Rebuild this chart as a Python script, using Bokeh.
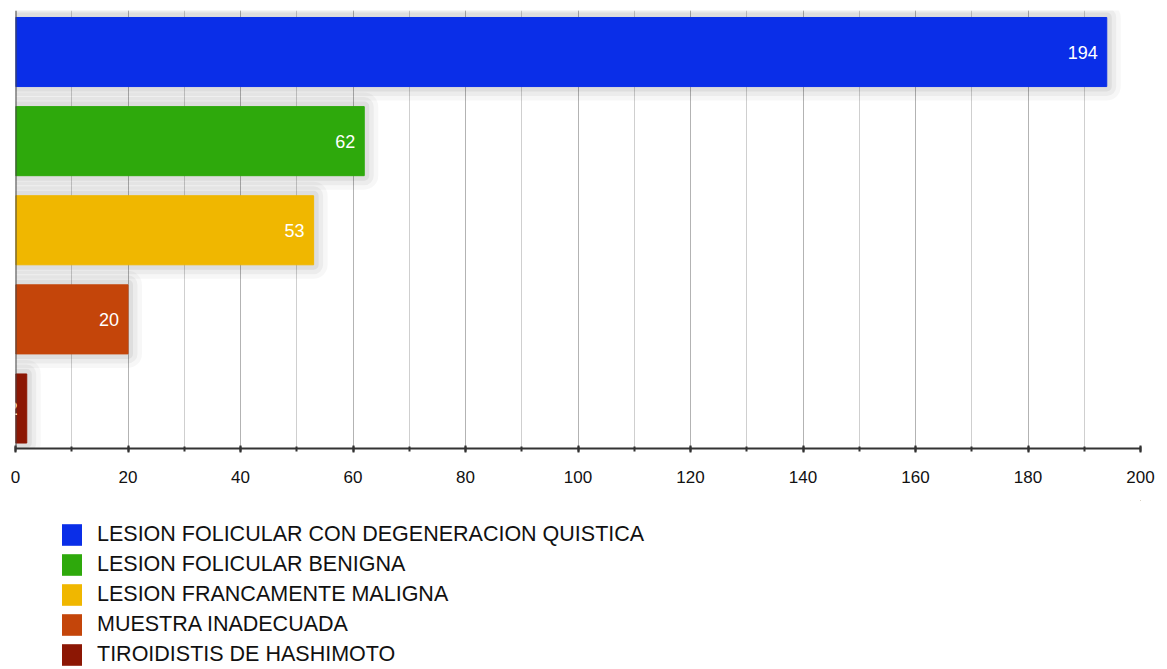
from bokeh.plotting import figure
from bokeh.layouts import column
from bokeh.models import (Range1d, SingleIntervalTicker, Legend, LegendItem,
                          ColumnDataSource, Span, LabelSet)
from bokeh.core.properties import value
from bokeh.embed import file_html
from bokeh.resources import INLINE

categories = [
    "LESION FOLICULAR CON DEGENERACION QUISTICA",
    "LESION FOLICULAR BENIGNA",
    "LESION FRANCAMENTE MALIGNA",
    "MUESTRA INADECUADA",
    "TIROIDISTIS DE HASHIMOTO",
]
values = [194, 62, 53, 20, 2]
colors = ["#0a2ee8", "#2ea90c", "#f0b700", "#c4450a", "#8c1704"]
x_max = 200
tick_step = 20

n = len(categories)
ypos = [n - 1 - i for i in range(n)]
src = ColumnDataSource(dict(y=ypos, v=values, c=colors, cat=categories,
                            lab=[str(v) for v in values]))

FONT = "Liberation Sans"

p = figure(width=1167, height=500, output_backend="svg", toolbar_location=None,
           x_range=Range1d(0, x_max), y_range=Range1d(-0.449, n - 1 + 0.466),
           min_border_left=15, min_border_right=27, min_border_top=10,
           min_border_bottom=52, y_axis_location=None)
p.outline_line_color = None
p.background_fill_color = "white"

# axis / grid
p.xaxis.ticker = SingleIntervalTicker(interval=tick_step, num_minor_ticks=2)
p.xaxis.axis_line_color = "#333333"
p.xaxis.axis_line_width = 2
p.xaxis.major_tick_line_color = "#333333"
p.xaxis.major_tick_line_width = 2
p.xaxis.major_tick_in = 3
p.xaxis.major_tick_out = 4
p.xaxis.minor_tick_line_color = "#333333"
p.xaxis.minor_tick_line_width = 2
p.xaxis.minor_tick_in = 2
p.xaxis.minor_tick_out = 3
p.xaxis.major_label_text_font = FONT
p.xaxis.major_label_text_font_size = "17px"
p.xaxis.major_label_text_color = "#111111"
p.xaxis.major_label_standoff = 18
p.xgrid.grid_line_color = "#b3b3b3"
p.xgrid.minor_grid_line_color = "#cfcfcf"
p.ygrid.grid_line_color = None

p.add_layout(Span(location=0, dimension="height", line_color="#444444", line_width=2))

# soft shadow
for lw, a in [(28, 0.03), (19, 0.045), (10, 0.06)]:
    p.hbar(y="y", right="v", left=0, height=0.775, source=src, fill_color=None,
           line_color="black", line_alpha=a, line_width=lw, line_join="round")

for i in range(n):
    p.hbar(y=[ypos[i]], right=[values[i]], left=0, height=0.775,
           fill_color=colors[i], line_color=colors[i], line_width=1)

labels = LabelSet(x="v", y="y", text="lab", source=src, x_offset=-9,
                  text_align="right", text_baseline="middle", text_color="white",
                  text_font=value(FONT), text_font_size="18px")
p.add_layout(labels)

# legend figure (its bars lie outside the visible ranges; only the legend shows)
p2 = figure(width=1167, height=169, output_backend="svg", toolbar_location=None,
            x_range=Range1d(-3 * x_max, -2 * x_max), y_range=Range1d(-60, -59),
            min_border_left=0, min_border_right=0, min_border_top=0,
            min_border_bottom=0, x_axis_location=None, y_axis_location=None)
p2.outline_line_color = None
p2.xgrid.grid_line_color = None
p2.ygrid.grid_line_color = None

items = []
for i in range(n):
    r = p2.hbar(y=[ypos[i]], right=[values[i]], left=0, height=0.775,
                fill_color=colors[i], line_color=None)
    items.append(LegendItem(label=categories[i], renderers=[r]))

legend = Legend(items=items, location=(44, 1), orientation="vertical",
                glyph_width=25, glyph_height=27, label_height=24, spacing=3,
                label_standoff=13, padding=0, margin=0,
                label_text_font=FONT, label_text_font_size="21.5px",
                label_text_color="#111111",
                border_line_color=None, background_fill_alpha=0)
p2.add_layout(legend, "center")

layout = column(p, p2, spacing=0)
open("out.html", "w").write(file_html(layout, INLINE))
